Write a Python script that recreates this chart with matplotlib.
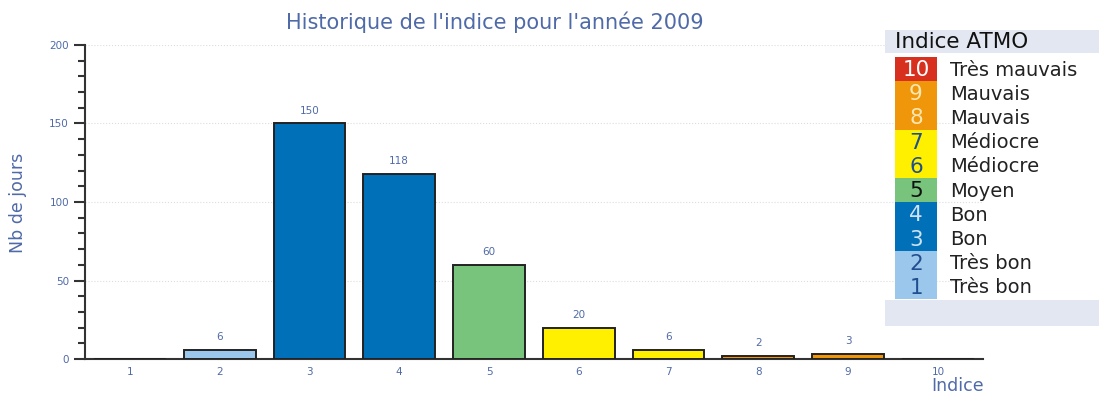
import matplotlib

matplotlib.use("Agg")
import matplotlib.pyplot as plt
from matplotlib.patches import Rectangle
from matplotlib.ticker import MultipleLocator

# Nombre de jours par valeur d'indice ATMO, année 2009
indices = [1, 2, 3, 4, 5, 6, 7, 8, 9, 10]
nb_jours = [0, 6, 150, 118, 60, 20, 6, 2, 3, 0]

# Légende : indice, qualificatif, couleur de la case, couleur du chiffre
legend_idx = [10, 9, 8, 7, 6, 5, 4, 3, 2, 1]
legend_lbl = ["Très mauvais", "Mauvais", "Mauvais", "Médiocre", "Médiocre",
              "Moyen", "Bon", "Bon", "Très bon", "Très bon"]

ATMO_COLORS = {
    1: "#9cc7ec", 2: "#9cc7ec", 3: "#0070b8", 4: "#0070b8", 5: "#78c47c",
    6: "#fff000", 7: "#fff000", 8: "#f0960a", 9: "#f0960a", 10: "#d8301f",
}
DIGIT_COLORS = {
    1: "#1f4f8f", 2: "#1f4f8f", 3: "#cfe3f5", 4: "#cfe3f5", 5: "#111111",
    6: "#1f4f8f", 7: "#1f4f8f", 8: "#fde7b0", 9: "#fde7b0", 10: "#ffffff",
}
TXT_BLUE = "#4f6aa8"

fig = plt.figure(figsize=(10.99, 3.97), dpi=100)
ax = fig.add_axes([0.0773, 0.0957, 0.817, 0.791])

ax.bar(indices, nb_jours, width=0.8,
       color=[ATMO_COLORS[i] for i in indices],
       edgecolor="#222222", linewidth=1.4, zorder=3)
for x, v in zip(indices, nb_jours):
    if v > 0:
        ax.text(x, v + 5, str(v), ha="center", va="bottom",
                fontsize=7.5, color=TXT_BLUE)

ax.set_xlim(0.5, 10.5)
ax.set_ylim(0, 200)
ax.set_xticks(indices)
ax.yaxis.set_major_locator(MultipleLocator(50))
ax.yaxis.set_minor_locator(MultipleLocator(10))
ax.tick_params(axis="x", length=0, pad=6, labelsize=7.5, labelcolor=TXT_BLUE)
ax.tick_params(axis="y", which="major", length=8, width=1.5,
               labelsize=7.5, labelcolor=TXT_BLUE, color="#333333")
ax.tick_params(axis="y", which="minor", length=5, width=1.5, color="#333333")
ax.grid(axis="y", color="#dddddd", linestyle=":", linewidth=0.8, zorder=0)
for side in ("top", "right"):
    ax.spines[side].set_visible(False)
for side in ("left", "bottom"):
    ax.spines[side].set_linewidth(1.5)
    ax.spines[side].set_color("#333333")

fig.text(0.45, 0.945, "Historique de l'indice pour l'année 2009",
         ha="center", va="center", fontsize=15, color=TXT_BLUE)
fig.text(0.016, 0.49, "Nb de jours", rotation=90, ha="center", va="center",
         fontsize=12.5, color=TXT_BLUE)
fig.text(0.895, 0.004, "Indice", ha="right", va="bottom",
         fontsize=12.5, color=TXT_BLUE)

# Encadré de légende, dessiné en pixels du canevas
lg = fig.add_axes([885 / 1099, 1 - 326 / 397, 214 / 1099, 296 / 397])
lg.set_xlim(885, 1099)
lg.set_ylim(326, 30)
lg.axis("off")
band = "#e3e7f2"
lg.add_patch(Rectangle((885, 30), 214, 23, color=band, lw=0))
lg.add_patch(Rectangle((885, 300), 214, 26, color=band, lw=0))
lg.text(895, 42, "Indice ATMO", fontsize=15.5, va="center", ha="left",
        color="#111111")
row_h = 24.2
for k, (idx, lbl) in enumerate(zip(legend_idx, legend_lbl)):
    top = 57 + k * row_h
    lg.add_patch(Rectangle((895, top), 42, row_h, color=ATMO_COLORS[idx], lw=0))
    lg.text(916, top + row_h / 2 + 1, str(idx), ha="center", va="center",
            fontsize=15.5, color=DIGIT_COLORS[idx])
    lg.text(950, top + row_h / 2 + 1, lbl, ha="left", va="center",
            fontsize=14, color="#222222")

fig.savefig("out.png", dpi=100)
